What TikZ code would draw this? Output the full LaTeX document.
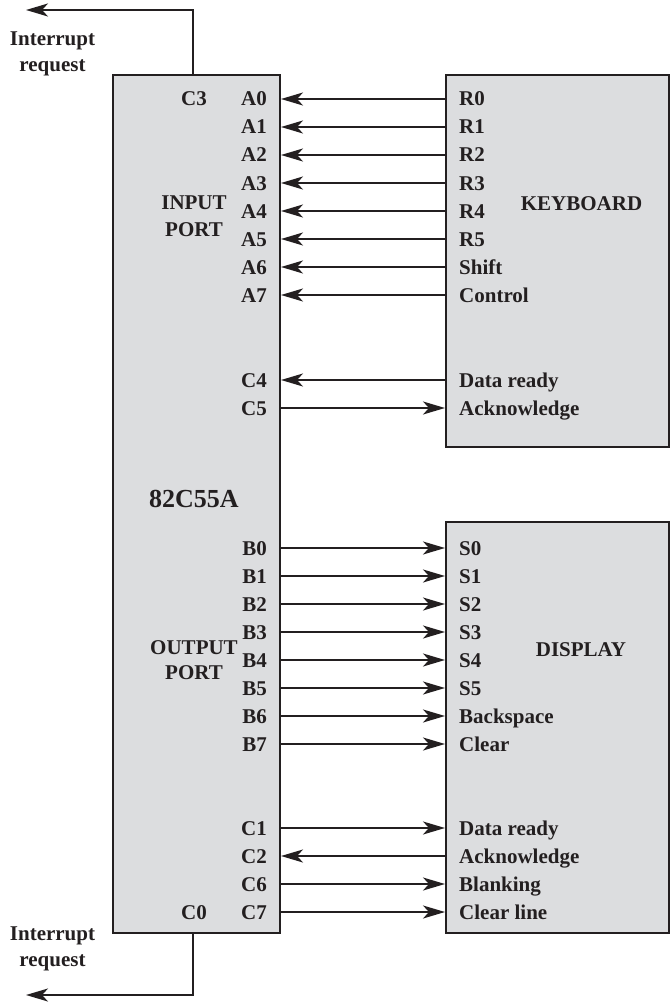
\documentclass[tikz,border=0pt]{standalone}
\usepackage{fontspec}
\setmainfont{Liberation Serif}
\usetikzlibrary{arrows.meta}
\definecolor{boxfill}{HTML}{DCDDDF}
\definecolor{ink}{HTML}{231F20}
\begin{document}
\begin{tikzpicture}[x=1pt,y=-1pt,
  box/.style={draw=ink,fill=boxfill,line width=2pt,anchor=north west,inner sep=0pt},
  lbl/.style={font=\fontsize{21}{25}\selectfont\bfseries,text=ink,inner sep=0pt,text height=14pt,text depth=0pt},
  pinl/.style={lbl,anchor=east},
  pinr/.style={lbl,anchor=west},
  txt/.style={font=\fontsize{21}{25}\selectfont\bfseries,text=ink,inner sep=0pt,anchor=base},
  wire/.style={draw=ink,line width=2pt},
  tip/.tip={Stealth[length=22pt,width=13pt,inset=6pt]},
  arrl/.style={wire,tip-},
  arrr/.style={wire,-tip}]
\useasboundingbox (0,0) rectangle (669,1003);

% boxes
\node[box,minimum width=167pt,minimum height=858pt] (chip) at (112,74) {};
\node[box,minimum width=223pt,minimum height=372pt] (kb) at (445,74) {};
\node[box,minimum width=223pt,minimum height=411pt] (disp) at (445,521) {};

% box titles
\node[lbl] (inA) at (194,202) {INPUT};
\node[lbl] (inB) at (194,229.5) {PORT};
\node[lbl,font=\fontsize{26}{30}\selectfont\bfseries,text height=17pt] (chipname) at (194,499) {82C55A};
\node[lbl] (outA) at (194,647) {OUTPUT};
\node[lbl] (outB) at (194,672.5) {PORT};
\node[lbl] (kbname) at (581.5,203) {KEYBOARD};
\node[lbl] (dispname) at (581,649.5) {DISPLAY};

% keyboard rows
\foreach \l/\r/\i/\d in {A0/R0/0/l,A1/R1/1/l,A2/R2/2/l,A3/R3/3/l,A4/R4/4/l,A5/R5/5/l,A6/Shift/6/l,A7/Control/7/l,C4/Data ready/10/l,C5/Acknowledge/11/r}{
  \pgfmathsetmacro\yy{round(99+28.05*\i)}
  \node[pinl] (L\i) at (267,\yy) {\l};
  \node[pinr] (R\i) at (459,\yy) {\r};
  \draw[arr\d] (L\i -| chip.east) -- (R\i -| kb.west);
}
% display rows
\foreach \l/\r/\i/\d in {B0/S0/16/r,B1/S1/17/r,B2/S2/18/r,B3/S3/19/r,B4/S4/20/r,B5/S5/21/r,B6/Backspace/22/r,B7/Clear/23/r,C1/Data ready/26/r,C2/Acknowledge/27/l,C6/Blanking/28/r,C7/Clear line/29/r}{
  \pgfmathsetmacro\yy{round(99+28.05*\i)}
  \node[pinl] (L\i) at (267,\yy) {\l};
  \node[pinr] (R\i) at (459,\yy) {\r};
  \draw[arr\d] (L\i -| chip.east) -- (R\i -| disp.west);
}

% interrupt pins
\node[lbl] (C3) at (194,99) {C3};
\node[lbl] (C0) at (194,912) {C0};

\coordinate (irqT) at (26,10);
\coordinate (irqB) at (26,995);
\draw[arrr] ([xshift=-1pt]C3 |- chip.north) |- (irqT);
\draw[arrr] ([xshift=-1pt]C0 |- chip.south) |- (irqB);

\node[txt] (irqTa) at (52.5,45.7) {Interrupt};
\node[txt] (irqTb) at (52.5,72) {request};
\node[txt] (irqBa) at (52.5,940.7) {Interrupt};
\node[txt] (irqBb) at (52.5,966.7) {request};
\end{tikzpicture}
\end{document}
